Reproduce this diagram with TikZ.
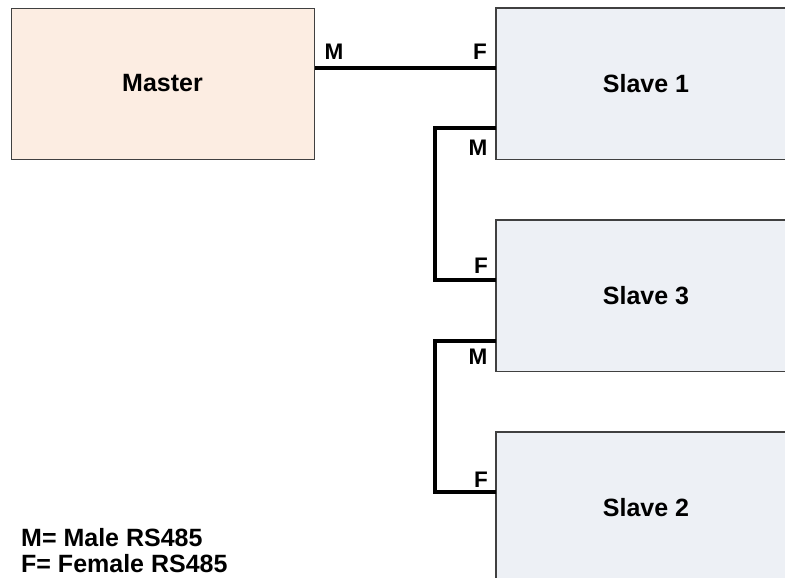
\documentclass[tikz,border=0pt]{standalone}
\usepackage{fontspec}
\setmainfont{Liberation Sans}
\definecolor{masterfill}{HTML}{FCEDE2}
\definecolor{slavefill}{HTML}{EDF0F5}
\definecolor{boxline}{HTML}{404040}
\begin{document}
\begin{tikzpicture}[x=1pt,y=-1pt,
  box/.style={minimum height=151pt,inner sep=0pt,anchor=north west},
  masterbox/.style={box,draw=boxline,line width=1.2pt,fill=masterfill,minimum width=303pt},
  slavebox/.style={box,fill=slavefill,minimum width=340pt},
  slaveborder/.style={draw=boxline,line width=1.2pt},
  boxtext/.style={font=\bfseries\fontsize{25}{30}\selectfont,inner sep=0pt},
  wire/.style={line width=3.5pt,line cap=butt},
  conn/.style={font=\bfseries\fontsize{22.5}{26}\selectfont,inner sep=0pt},
  legend/.style={font=\bfseries\fontsize{25}{30}\selectfont,inner sep=0pt,anchor=base west}]
\useasboundingbox (0,0) rectangle (785,578);
\begin{scope}
\clip (0,0) rectangle (785,578);
\node[masterbox] (master) at (11,8) {};
\node[slavebox] (s1) at (496,8) {};
\node[slavebox] (s3) at (496,220) {};
\node[slavebox] (s2) at (496,432) {};
\draw[slaveborder] (s1.north east) -- (s1.north west) -- (s1.south west) -- (s1.south east);
\draw[slaveborder] (s3.north east) -- (s3.north west) -- (s3.south west) -- (s3.south east);
\draw[slaveborder] (s2.north east) -- (s2.north west) -- (s2.south west);
\end{scope}
\node[boxtext] (tm) at (162.5,83.5) {Master};
\node[boxtext] (t1) at (646,83.5) {Slave 1};
\node[boxtext] (t3) at (646,295.5) {Slave 3};
\node[boxtext] (t2) at (646,507.5) {Slave 2};
% wire master -> slave 1
\coordinate (mo) at (master.east |- 0,68);
\coordinate (s1f) at (s1.west |- 0,68);
\draw[wire] (mo) -- (s1f);
% slave1 -> slave3
\coordinate (s1m) at (s1.west |- 0,128);
\coordinate (s3f) at (s3.west |- 0,280);
\coordinate (b1) at (435,128);
\coordinate (b2) at (435,280);
\draw[wire] (s1m) -- (b1) -- (b2) -- (s3f);
% slave3 -> slave2
\coordinate (s3m) at (s3.west |- 0,341);
\coordinate (s2f) at (s2.west |- 0,492);
\coordinate (c1) at (435,341);
\coordinate (c2) at (435,492);
\draw[wire] (s3m) -- (c1) -- (c2) -- (s2f);
% connector labels
\node[conn] (lm0) at (334,52) {M};
\node[conn] (lf1) at (480,52) {F};
\node[conn] (lm1) at (478,148) {M};
\node[conn] (lf3) at (481,266) {F};
\node[conn] (lm3) at (478,357) {M};
\node[conn] (lf2) at (481,480) {F};
% legend
\node[legend] (leg1) at (21,546) {M= Male RS485};
\node[legend] (leg2) at (21,572) {F= Female RS485};
\end{tikzpicture}
\end{document}
